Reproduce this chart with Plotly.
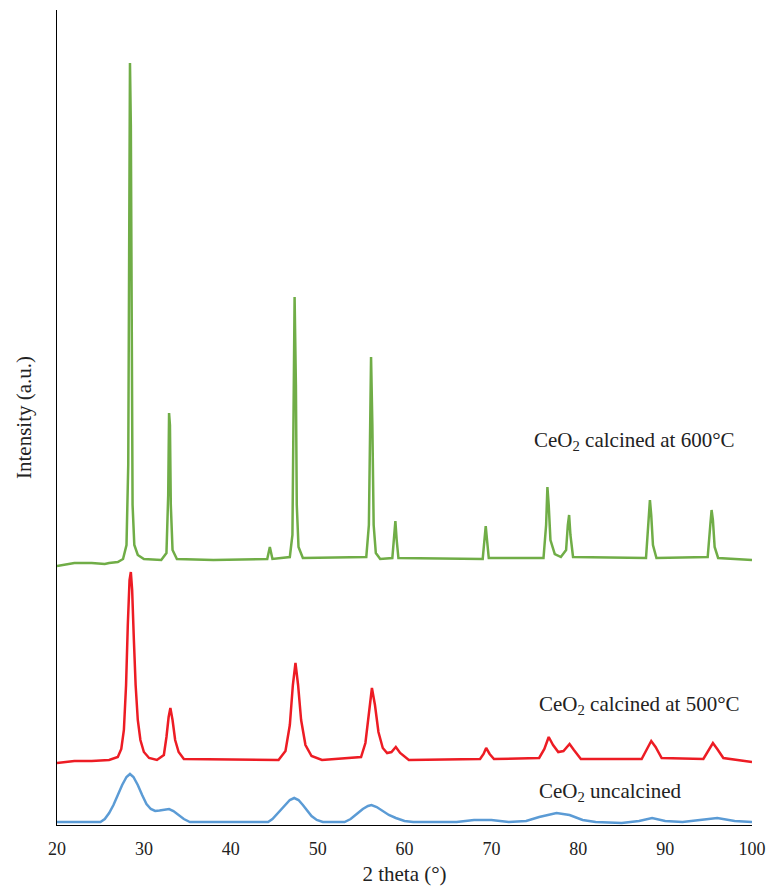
"""XRD patterns of CeO2 samples (uncalcined, 500 C, 600 C)."""
import plotly.graph_objects as go

# 2 theta positions and intensities (a.u.)
x_600 = [20, 22, 24, 25.5, 26, 27, 27.6, 28.0, 28.2, 28.3, 28.4, 28.5, 28.6, 28.7, 28.9,
         29.3, 30, 32, 32.6, 32.8, 32.9, 33.0, 33.1, 33.3, 33.8, 38, 44.2, 44.5, 44.8,
         46.8, 47.1, 47.2, 47.35, 47.5, 47.6, 47.8, 48.3, 55.6, 55.9, 56.05, 56.15, 56.3,
         56.45, 56.7, 57.2, 58.6, 58.8, 58.95, 59.1, 59.3, 69.0, 69.2, 69.35, 69.5, 69.7,
         76.0, 76.3, 76.45, 76.6, 76.8, 77.3, 78.0, 78.6, 78.8, 78.95, 79.1, 79.4, 87.8,
         88.1, 88.25, 88.4, 88.6, 89.0, 94.9, 95.2, 95.35, 95.5, 95.7, 96.1, 100]
y_600 = [259, 262, 262, 261, 262, 263, 266, 280, 360, 600, 762, 700, 420, 320, 280,
         270, 266, 265, 272, 330, 412, 400, 320, 275, 266, 265, 266, 278, 266,
         268, 290, 400, 528, 440, 320, 278, 267, 268, 300, 400, 468, 400,
         300, 272, 266, 267, 285, 304, 285, 267, 266, 285, 299, 285, 267,
         267, 300, 338, 320, 285, 271, 268, 275, 300, 310, 290, 268, 267,
         300, 325, 310, 280, 267, 268, 300, 315, 305, 278, 267, 265]

x_500 = [20, 22, 24, 26, 27.0, 27.4, 27.7, 27.95, 28.15, 28.35, 28.5, 28.65, 28.85, 29.05,
         29.3, 29.6, 30.0, 30.6, 31.5, 32.3, 32.6, 32.85, 33.05, 33.3, 33.6, 34.0, 34.6,
         45.5, 46.3, 46.8, 47.15, 47.45, 47.75, 48.1, 48.6, 49.3, 50.5, 55.0, 55.5, 55.9,
         56.25, 56.6, 57.0, 57.5, 58.0, 58.5, 59.0, 59.5, 60.5, 68.7, 69.1, 69.4, 69.8,
         70.3, 75.5, 76.1, 76.6, 77.1, 77.7, 78.3, 78.6, 79.0, 79.5, 80.3, 87.3, 87.9,
         88.4, 88.9, 89.6, 94.4, 95.0, 95.5, 96.0, 96.7, 100]
y_500 = [62, 64, 64, 65, 68, 76, 95, 140, 200, 245, 253, 235, 185, 140,
         105, 85, 73, 67, 65, 70, 88, 108, 117, 105, 85, 73, 66,
         65, 74, 100, 140, 162, 140, 105, 80, 69, 65, 68, 82, 110,
         137, 120, 93, 77, 72, 73, 78, 72, 65, 66, 71, 77, 71,
         66, 67, 76, 88, 80, 73, 74, 77, 81, 75, 66, 66, 75,
         84, 78, 67, 66, 75, 82, 76, 67, 63]

x_unc = [20, 24, 25.0, 25.5, 26.0, 26.5, 27.0, 27.5, 28.0, 28.4, 28.8, 29.3, 29.8, 30.3,
         30.8, 31.3, 31.8, 32.4, 32.9, 33.4, 34.0, 34.6, 35.3, 40, 44.3, 44.8, 45.3, 45.8,
         46.3, 46.8, 47.3, 47.8, 48.3, 48.8, 49.3, 49.9, 50.6, 53.1, 53.8, 54.5, 55.2,
         55.8, 56.2, 56.8, 57.5, 58.2, 59.0, 60.0, 61.0, 66, 68, 70, 72, 74, 75.5, 77.5,
         79, 80.5, 82, 85, 87, 88.5, 90, 92, 94, 96, 98, 100]
y_unc = [3, 3, 3, 6, 12, 20, 30, 40, 48, 51, 48, 40, 30, 21,
         16, 14, 14.5, 15.5, 16, 14, 10, 6, 3, 3, 3, 6, 11, 16,
         21, 25, 27, 25, 20, 14, 9, 5, 3, 3, 6, 11, 16,
         19, 20, 18, 14, 10, 7, 4, 3, 3, 5, 5, 3, 4, 8, 12,
         10, 5, 3, 2, 4, 7, 4, 3, 5, 7, 4, 3]

labels = ['CeO<sub>2</sub> calcined at 600°C',
          'CeO<sub>2</sub> calcined at 500°C',
          'CeO<sub>2</sub> uncalcined']
label_x = [74.66, 75.2, 75.2]
label_y = [384, 120, 33]

serif = 'Liberation Serif'
ink = '#222222'

fig = go.Figure()
fig.add_trace(go.Scatter(x=x_unc, y=y_unc, mode='lines',
                         line=dict(color='#5B9BD5', width=2.5)))
fig.add_trace(go.Scatter(x=x_500, y=y_500, mode='lines',
                         line=dict(color='#ED1C24', width=2.5)))
fig.add_trace(go.Scatter(x=x_600, y=y_600, mode='lines',
                         line=dict(color='#70AD47', width=2.5)))

for text, xx, yy in zip(labels, label_x, label_y):
    fig.add_annotation(x=xx, y=yy, text=text, showarrow=False,
                       xanchor='left', yanchor='middle',
                       font=dict(family=serif, size=21, color=ink))

fig.update_layout(width=768, height=888,
                  showlegend=False,
                  plot_bgcolor='white', paper_bgcolor='white',
                  margin=dict(l=57, r=16, t=10, b=63),
                  font=dict(family=serif, color=ink))
# invisible ticks only push the labels down a bit
fig.update_xaxes(range=[20, 100], dtick=10, showgrid=False, zeroline=False,
                 showline=True, linecolor='black', linewidth=1,
                 ticks='outside', ticklen=7, tickcolor='rgba(0,0,0,0)',
                 tickfont=dict(size=18, family=serif, color=ink),
                 title_text='2 theta (°)',
                 title_font=dict(size=21, family=serif, color=ink),
                 title_standoff=8, automargin=False)
fig.update_yaxes(range=[0, 815], showgrid=False, zeroline=False,
                 showline=True, linecolor='black', linewidth=1,
                 showticklabels=False, ticks='',
                 title_text='Intensity (a.u.)',
                 title_font=dict(size=21, family=serif, color=ink),
                 title_standoff=18, automargin=False)

# drop the page's default body margin so the figure sits at the window corner
fig.write_html("out.html", config={'displayModeBar': False},
               post_script="document.body.style.margin = '0';")
